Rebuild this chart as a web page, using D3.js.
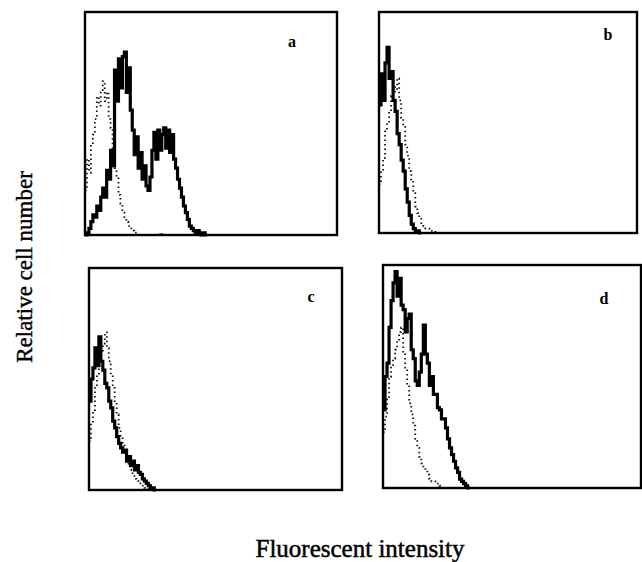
<!DOCTYPE html>
<html>
<head>
<meta charset="utf-8">
<script src="https://cdn.jsdelivr.net/npm/d3@7/dist/d3.min.js"></script>
<style>
  body { margin: 0; background: #fff; }
  svg { display: block; }
</style>
</head>
<body>
<svg id="chart" width="642" height="562"></svg>
<script>
"use strict";

// histogram bins, 2 channels per bin, relative cell number (0-100)
const solidA = [0,1,3,6,9,8,13,11,17,21,17,29,25,38,31,74,60,79,66,80,82,64,75,56,47,36,44,30,37,25,31,22,20,26,38,46,34,47,38,45,48,39,47,37,45,34,30,25,21,17,13,10,7,4,3,2,1,2,1,0,1,0];
const dotA   = [20,34,28,40,45,52,62,58,65,69,60,64,52,48,36,30,26,18,14,10,8,6,4,3,2,1,1,0,0,0,0,0,0,0,0,0,0,0,1,0];
const solidB = [58,72,60,77,84,70,73,60,55,45,40,33,28,20,14,8,4,2,1,1,0];
const dotB   = [22,28,34,46,50,55,62,66,64,70,60,52,48,40,35,28,24,18,12,9,7,4,3,2,2,1,1,1,0];
const solidC = [40,50,55,64,56,69,58,54,48,46,40,37,31,28,24,21,19,17,18,13,15,11,13,9,11,8,7,5,4,3,2,1,1,0];
const dotC   = [22,30,36,46,52,56,62,66,71,64,58,52,46,40,34,28,24,20,17,14,11,9,7,5,4,3,2,2,1,1,0];
const solidD = [35,50,56,72,84,92,97,86,94,82,80,70,76,78,62,58,48,46,52,60,73,60,56,46,50,42,42,36,35,31,31,27,22,18,15,12,9,7,4,3,2,1,0];
const dotD   = [25,32,40,50,54,58,62,66,70,72,60,54,46,38,33,28,22,18,14,11,9,8,6,4,3,3,2,2,1,0];

const panelLabels = ["a", "b", "c", "d"];
const binWidth = 2;

const panels = [
    { label: panelLabels[0], solid: solidA, dots: dotA, x0: 85,  x1: 337, y0: 12,  y1: 235, lx: 292, ly: 47 },
    { label: panelLabels[1], solid: solidB, dots: dotB, x0: 379, x1: 637, y0: 12,  y1: 233, lx: 608, ly: 40 },
    { label: panelLabels[2], solid: solidC, dots: dotC, x0: 89,  x1: 342, y0: 268, y1: 490, lx: 311, ly: 302 },
    { label: panelLabels[3], solid: solidD, dots: dotD, x0: 383, x1: 641, y0: 265, y1: 488, lx: 604, ly: 304 }
];

const svg = d3.select("#chart");

function toPoints(values) {
    let pts = values.map(function(v, i) { return [i * binWidth, v]; });
    pts.push([values.length * binWidth, values[values.length - 1]]);
    return pts;
}

panels.forEach(function(p) {
    let x = d3.scaleLinear().domain([0, 256]).range([p.x0, p.x1]);
    let y = d3.scaleLinear().domain([0, 100]).range([p.y1, p.y0]);
    let line = d3.line()
        .x(function(d) { return x(d[0]); })
        .y(function(d) { return y(d[1]); })
        .curve(d3.curveStepAfter);

    let g = svg.append("g").attr("class", "panel");

    // control: dotted
    g.append("path")
        .attr("d", line(toPoints(p.dots)))
        .style("fill", "none")
        .style("stroke", "#111")
        .style("stroke-width", 1.8)
        .style("stroke-dasharray", "1.5,3");

    // sample: thick solid
    g.append("path")
        .attr("d", line(toPoints(p.solid)))
        .style("fill", "none")
        .style("stroke", "#000")
        .style("stroke-width", 3.2)
        .style("stroke-linejoin", "miter");

    g.append("rect")
        .attr("x", p.x0)
        .attr("y", p.y0)
        .attr("width", p.x1 - p.x0)
        .attr("height", p.y1 - p.y0)
        .style("fill", "none")
        .style("stroke", "#000")
        .style("stroke-width", 2.4);

    g.append("text")
        .attr("x", p.lx)
        .attr("y", p.ly)
        .attr("text-anchor", "middle")
        .style("font-family", "'Liberation Serif', serif")
        .style("font-weight", "bold")
        .style("font-size", "16px")
        .text(p.label);
});

svg.append("text")
    .attr("transform", "translate(32,267) rotate(-90)")
    .attr("text-anchor", "middle")
    .style("font-family", "'Liberation Serif', serif")
    .style("font-size", "23px")
    .style("stroke", "#000")
    .style("stroke-width", 0.4)
    .text("Relative cell number");

svg.append("text")
    .attr("x", 360)
    .attr("y", 557)
    .attr("text-anchor", "middle")
    .style("font-family", "'Liberation Serif', serif")
    .style("font-size", "25px")
    .style("stroke", "#000")
    .style("stroke-width", 0.5)
    .text("Fluorescent intensity");
</script>
</body>
</html>
